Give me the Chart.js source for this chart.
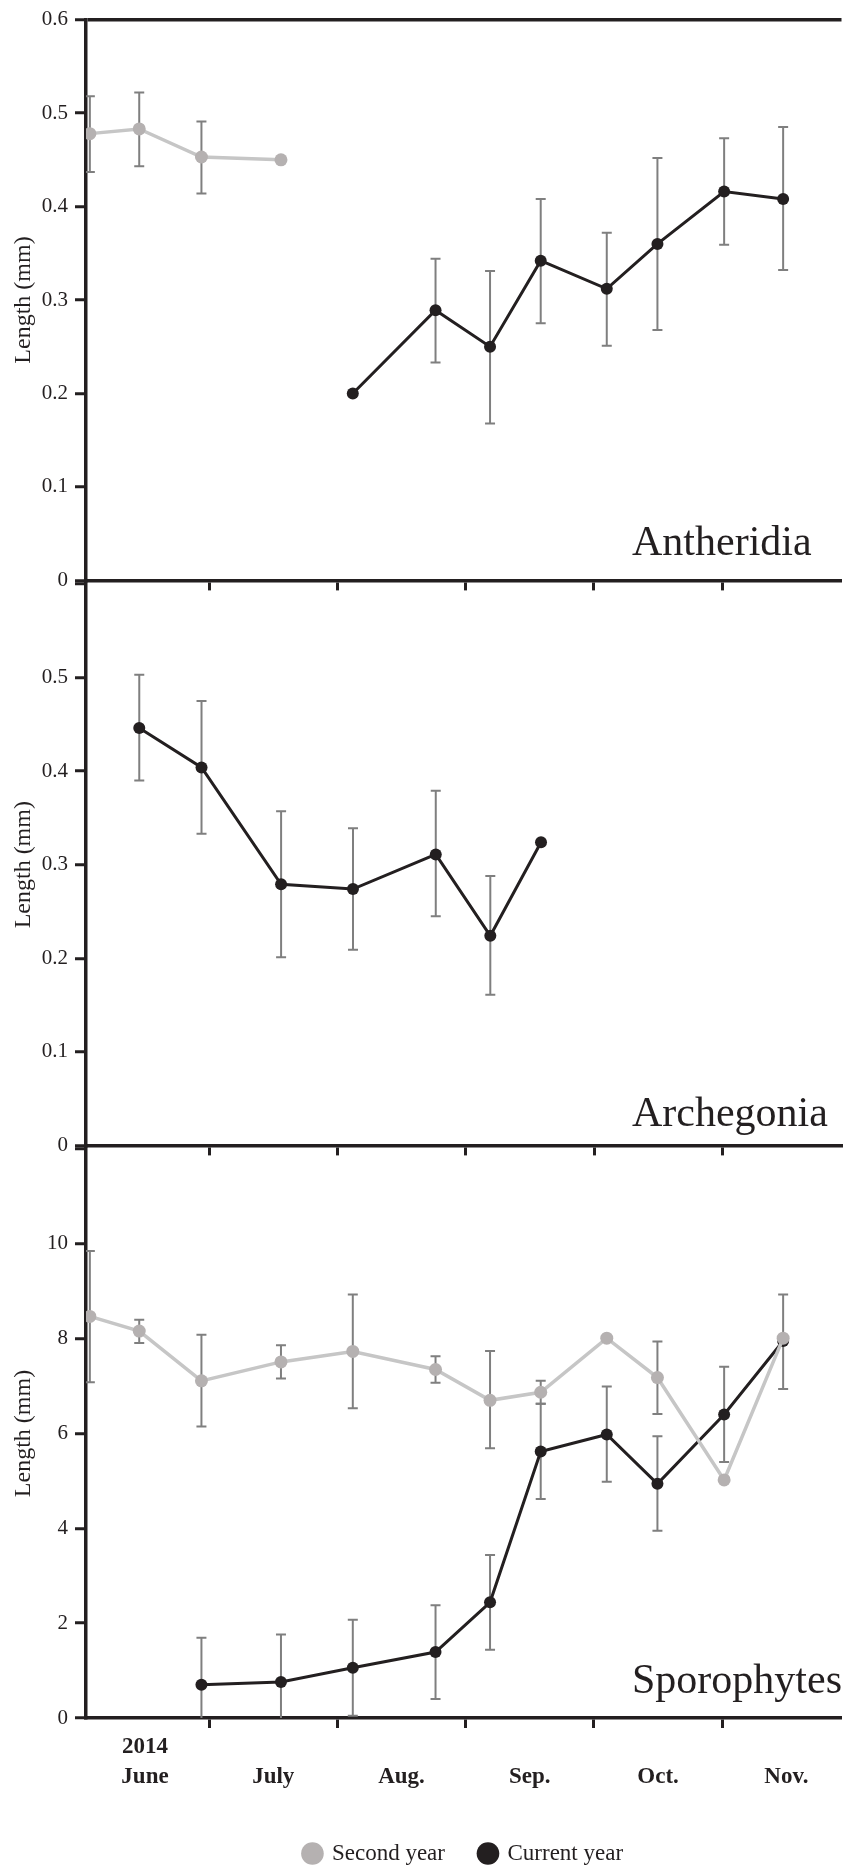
<!DOCTYPE html>
<html>
<head>
<meta charset="utf-8">
<title>Reproductive organ length, 2014</title>
<script src="https://cdn.jsdelivr.net/npm/chart.js@4.4.1/dist/chart.umd.min.js"></script>
<style>
  html, body { margin: 0; padding: 0; background: #fff; overflow: hidden; }
  #wrap { position: relative; width: 848px; height: 1867px; overflow: hidden; background: #fff; }
  #wrap canvas { position: absolute; left: 0; }
</style>
</head>
<body>
<div id="wrap">
  <canvas id="antheridia" width="848" height="600" style="top:0px"></canvas>
  <canvas id="archegonia" width="848" height="601" style="top:564px"></canvas>
  <canvas id="sporophytes" width="848" height="746" style="top:1129px"></canvas>
</div>
<script>
// sampling dates, in months counted from 1 June 2014
const sampleMonth = [0.07, 0.455, 0.94, 1.56, 2.12, 2.765, 3.19, 3.585, 4.10, 4.495, 5.015, 5.475];

// x axis: month boundaries get a tick mark, month centres get the name
const monthEdges = [1, 2, 3, 4, 5];
const monthCentres = [0.5, 1.5, 2.5, 3.5, 4.5, 5.5];
const monthNames = ["June", "July", "Aug.", "Sep.", "Oct.", "Nov."];
const yearLine = ["2014", "", "", "", "", ""];
const xRange = [0.04, 5.93];

const seriesNames = ["Second year", "Current year"];

// Antheridia (mm)
const antheridiaSecond   = [0.478, 0.483, 0.453, 0.450, null, null, null, null, null, null, null, null];
const antheridiaSecondHi = [0.518, 0.522, 0.491, null, null, null, null, null, null, null, null, null];
const antheridiaSecondLo = [0.437, 0.443, 0.414, null, null, null, null, null, null, null, null, null];
const antheridiaCurrent   = [null, null, null, null, 0.200, 0.289, 0.250, 0.342, 0.312, 0.360, 0.416, 0.408];
const antheridiaCurrentHi = [null, null, null, null, null, 0.344, 0.331, 0.408, 0.372, 0.452, 0.473, 0.485];
const antheridiaCurrentLo = [null, null, null, null, null, 0.233, 0.168, 0.275, 0.251, 0.268, 0.359, 0.332];

// Archegonia (mm), current year only
const archegoniaCurrent   = [null, 0.446, 0.404, 0.279, 0.274, 0.311, 0.224, 0.324, null, null, null, null];
const archegoniaCurrentHi = [null, 0.503, 0.475, 0.357, 0.339, 0.379, 0.288, null, null, null, null, null];
const archegoniaCurrentLo = [null, 0.390, 0.333, 0.201, 0.209, 0.245, 0.161, null, null, null, null, null];

// Sporophytes (mm)
const sporoSecond   = [8.47, 8.16, 7.11, 7.51, 7.73, 7.35, 6.70, 6.87, 8.01, 7.18, 5.02, 8.01];
const sporoSecondHi = [9.85, 8.40, 8.08, 7.86, 8.93, 7.63, 7.74, 7.11, null, 7.94, null, null];
const sporoSecondLo = [7.08, 7.91, 6.15, 7.16, 6.53, 7.07, 5.69, 6.63, null, 6.41, null, null];
const sporoCurrent   = [null, null, 0.70, 0.76, 1.06, 1.39, 2.44, 5.62, 5.98, 4.94, 6.40, 7.95];
const sporoCurrentHi = [null, null, 1.69, 1.76, 2.07, 2.38, 3.44, 6.63, 6.99, 5.94, 7.41, 8.93];
const sporoCurrentLo = [null, null, -0.29, -0.25, 0.05, 0.40, 1.44, 4.62, 4.98, 3.95, 5.40, 6.94];

const ink = "#231f20";
const serif = '"Liberation Serif", "Times New Roman", serif';

// look of the two series
const secondStyle = {
  borderColor: "#c6c6c6", backgroundColor: "#b5b1b1",
  pointBackgroundColor: "#b5b1b1", pointBorderColor: "#b5b1b1",
  pointRadius: 6.5, pointBorderWidth: 0, borderWidth: 3.5, pointStyle: "circle"
};
const currentStyle = {
  borderColor: ink, backgroundColor: ink,
  pointBackgroundColor: ink, pointBorderColor: ink,
  pointRadius: 6, pointBorderWidth: 0, borderWidth: 3, pointStyle: "circle"
};

function series(label, values, hi, lo, style) {
  return Object.assign({
    label: label,
    data: sampleMonth.map((m, i) => ({ x: m, y: values[i] })),
    errHigh: hi,
    errLow: lo,
    tension: 0
  }, style);
}

// vertical error bars with small caps, drawn under the lines
const errorBars = {
  id: "errorBars",
  beforeDatasetsDraw(chart) {
    const { ctx, chartArea, scales } = chart;
    ctx.save();
    ctx.beginPath();
    ctx.rect(chartArea.left, chartArea.top, chartArea.width, chartArea.height);
    ctx.clip();
    ctx.strokeStyle = "#7f7f7f";
    ctx.lineWidth = 2;
    chart.data.datasets.forEach(ds => {
      if (!ds.errHigh) return;
      ds.data.forEach((p, i) => {
        const hi = ds.errHigh[i], lo = ds.errLow[i];
        if (hi == null || lo == null) return;
        const px = scales.x.getPixelForValue(p.x);
        const top = scales.y.getPixelForValue(hi);
        const bot = scales.y.getPixelForValue(lo);
        ctx.beginPath();
        ctx.moveTo(px, top); ctx.lineTo(px, bot);
        ctx.moveTo(px - 5, top); ctx.lineTo(px + 5, top);
        ctx.moveTo(px - 5, bot); ctx.lineTo(px + 5, bot);
        ctx.stroke();
      });
    });
    ctx.restore();
  }
};

// big organ name in the lower right of each panel
const panelName = {
  id: "panelName",
  afterDatasetsDraw(chart, args, opts) {
    const { ctx, chartArea } = chart;
    ctx.save();
    ctx.font = "42px " + serif;
    ctx.fillStyle = ink;
    ctx.textAlign = "left";
    ctx.textBaseline = "alphabetic";
    ctx.fillText(opts.text, opts.x, chartArea.bottom - opts.lift);
    ctx.restore();
  }
};

function buildPanel(id, cfg) {
  const ctx = document.getElementById(id).getContext("2d");
  const isTop = v => Math.abs(v - cfg.yMax) < 1e-9;
  return new Chart(ctx, {
    type: "line",
    data: { datasets: cfg.datasets },
    options: {
      responsive: false,
      animation: false,
      events: [],
      layout: { padding: { top: cfg.padTop, left: 0, right: 0, bottom: 0 } },
      plugins: {
        legend: cfg.legend || { display: false },
        tooltip: { enabled: false },
        panelName: { text: cfg.name, x: 632, lift: cfg.nameLift }
      },
      scales: {
        x: {
          type: "linear",
          min: xRange[0],
          max: xRange[1],
          afterBuildTicks: s => {
            s.ticks = monthCentres.concat(monthEdges).sort((a, b) => a - b).map(v => ({ value: v }));
          },
          afterFit: s => { s.height = cfg.xHeight; },
          border: { color: ink, width: 3.5 },
          grid: {
            drawOnChartArea: false,
            tickLength: 10,
            tickWidth: 3,
            tickColor: c => (c.tick && Number.isInteger(c.tick.value)) ? ink : "rgba(0,0,0,0)"
          },
          ticks: {
            autoSkip: false,
            maxRotation: 0,
            padding: 4,
            color: ink,
            font: { family: serif, size: 23, weight: "bold", lineHeight: 1.3 },
            callback: v => {
              if (!cfg.monthLabels || Number.isInteger(v)) return "";
              const k = monthCentres.indexOf(v);
              return k < 0 ? "" : [yearLine[k], monthNames[k]];
            }
          }
        },
        y: {
          min: 0,
          max: cfg.yMax,
          afterFit: s => { s.width = 86; },
          border: { color: ink, width: 3.5 },
          grid: {
            tickLength: 11,
            tickWidth: 3,
            tickColor: ink,
            lineWidth: 3.5,
            // only the first panel closes its top with a frame line
            color: c => (cfg.topLine && c.tick && isTop(c.tick.value)) ? ink : "rgba(0,0,0,0)"
          },
          ticks: {
            stepSize: cfg.yStep,
            padding: 7,
            color: ink,
            font: { family: serif, size: 21 },
            callback: v => {
              if (cfg.hideTop && isTop(v)) return "";
              return v === 0 ? "0" : v.toFixed(cfg.digits);
            }
          },
          title: {
            display: true,
            text: "Length (mm)",
            color: ink,
            font: { family: serif, size: 24 },
            padding: { top: 9, bottom: 0 }
          }
        }
      }
    },
    plugins: [errorBars, panelName]
  });
}

buildPanel("antheridia", {
  name: "Antheridia", nameLift: 25,
  padTop: 17, xHeight: 16, topLine: true,
  yMax: 0.6, yStep: 0.1, digits: 1, hideTop: false,
  datasets: [
    series(seriesNames[0], antheridiaSecond, antheridiaSecondHi, antheridiaSecondLo, secondStyle),
    series(seriesNames[1], antheridiaCurrent, antheridiaCurrentHi, antheridiaCurrentLo, currentStyle)
  ]
});

buildPanel("archegonia", {
  name: "Archegonia", nameLift: 19,
  padTop: 20, xHeight: 16, topLine: false,
  yMax: 0.6, yStep: 0.1, digits: 1, hideTop: true,
  datasets: [
    series(seriesNames[1], archegoniaCurrent, archegoniaCurrentHi, archegoniaCurrentLo, currentStyle)
  ]
});

buildPanel("sporophytes", {
  name: "Sporophytes", nameLift: 25,
  padTop: 20, xHeight: 89, topLine: false,
  yMax: 12, yStep: 2, digits: 0, hideTop: true,
  monthLabels: true,
  legend: {
    display: true,
    position: "bottom",
    fullSize: false,
    labels: {
      usePointStyle: true,
      boxWidth: 16,
      boxHeight: 16,
      padding: 35,
      color: ink,
      font: { family: serif, size: 23 }
    }
  },
  datasets: [
    series(seriesNames[0], sporoSecond, sporoSecondHi, sporoSecondLo, secondStyle),
    series(seriesNames[1], sporoCurrent, sporoCurrentHi, sporoCurrentLo, currentStyle)
  ]
});
</script>
</body>
</html>
